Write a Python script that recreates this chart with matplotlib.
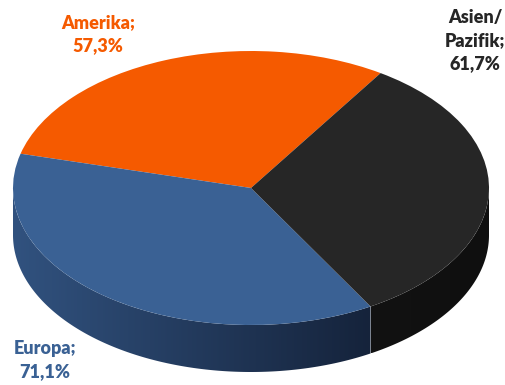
import numpy as np
import matplotlib
matplotlib.use("Agg")
import matplotlib.pyplot as plt
from matplotlib.patches import Polygon
from matplotlib.transforms import Affine2D
from matplotlib.colors import to_rgb

# Anteile je Region (Beschriftung zeigt den Wert)
regions = ["Amerika", "Europa", "Asien/\nPazifik"]
values = [57.3, 71.1, 61.7]
labels = ["Amerika;\n57,3%", "Europa;\n71,1%", "Asien/\nPazifik;\n61,7%"]
top_colors = ["#f55a00", "#3a6194", "#262626"]
side_left = ["#c44800", "#31527f", "#121212"]
side_right = ["#c44800", "#15233b", "#0f0f0f"]
label_colors = ["#f55a00", "#3a6194", "#262626"]

W, H = 506, 385
cx, cy = 251, 197      # Mittelpunkt der Oberseite
rx, ry = 238, 137      # Halbachsen
depth = 47
start = 57

fig = plt.figure(figsize=(W / 100, H / 100), dpi=100)
ax = fig.add_axes([0, 0, 1, 1])

squash = Affine2D().translate(-cx, -cy).scale(1, ry / rx).translate(cx, cy)

# Seitenwand (nur vorne sichtbar, 180..360 Grad), Farbverlauf per imshow
fracs = np.array(values) / sum(values)
angles = start + 360 * np.concatenate([[0], np.cumsum(fracs)])
for i in range(len(values)):
    a1, a2 = angles[i], angles[i + 1]
    for off in (0, 360, -360):
        lo = max(a1 + off, 180)
        hi = min(a2 + off, 360)
        if hi <= lo:
            continue
        t = np.radians(np.linspace(lo, hi, 200))
        xs = cx + rx * np.cos(t)
        ys = cy + ry * np.sin(t)
        pts = np.vstack([np.column_stack([xs, ys]),
                         np.column_stack([xs[::-1], ys[::-1] - depth])])
        poly = Polygon(pts, closed=True, facecolor="none", edgecolor="none")
        ax.add_patch(poly)
        c0 = np.array(to_rgb(side_left[i]))
        c1 = np.array(to_rgb(side_right[i]))
        f = np.linspace(0, 1, 256)[None, :, None]
        grad = c0 + (c1 - c0) * f
        grad = np.repeat(grad, 2, axis=0)
        im = ax.imshow(grad, extent=(xs.min(), xs.max(), ys.min() - depth, ys.max()),
                       origin="lower", aspect="auto", interpolation="bilinear", zorder=1)
        im.set_clip_path(poly)

# Oberseite
wedges, _ = ax.pie(values, colors=top_colors, startangle=start, counterclock=True,
                   center=(cx, cy), radius=rx, frame=True,
                   wedgeprops=dict(linewidth=0, zorder=2))
for w in wedges:
    w.set_transform(squash + ax.transData)

ax.set_xlim(0, W)
ax.set_ylim(0, H)
ax.set_aspect("auto")
ax.axis("off")

pos = [(98, 14), (45, 340), (475, 9)]
for lab, col, (x, y) in zip(labels, label_colors, pos):
    ax.text(x, H - y, lab, color=col, fontsize=13, fontweight="heavy",
            family=["Lato", "DejaVu Sans"], ha="center", va="top",
            linespacing=1.42, zorder=3)

fig.savefig("out.png", dpi=100)
